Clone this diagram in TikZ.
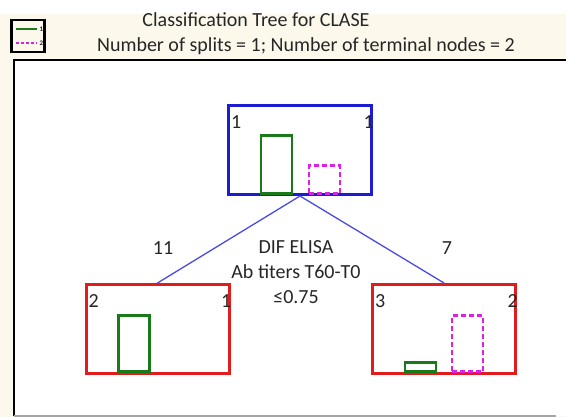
\documentclass[tikz,border=0pt]{standalone}
\usepackage{fontspec}
\setmainfont{Carlito}
\usepackage{tikz}
\usetikzlibrary{positioning}
\definecolor{cream}{HTML}{FCF8EC}
\definecolor{splitblue}{HTML}{1C1CD2}
\definecolor{leafred}{HTML}{E01C1C}
\definecolor{classgreen}{HTML}{1A7A1A}
\definecolor{classmag}{HTML}{E020E0}
\definecolor{edgeblue}{HTML}{4A4AE6}

\begin{document}
\begin{tikzpicture}[x=1pt,y=-1pt,font=\fontsize{20}{25}\selectfont]
\tikzstyle{txt}=[text=black!85,inner sep=0pt]
\tikzstyle{split}=[draw=splitblue,line width=3pt,inner sep=0pt]
\tikzstyle{leaf}=[draw=leafred,line width=3pt,inner sep=0pt]
\tikzstyle{edge}=[draw=edgeblue,line width=1.3pt]
\tikzstyle{bar1}=[draw=classgreen,line width=2.6pt,anchor=south,inner sep=0pt,minimum width=31]
\tikzstyle{bar2}=[bar1,draw=classmag,dash pattern=on 5pt off 3pt]
\useasboundingbox (0,0) rectangle (566,417);
% background and frame
\fill[cream] (0,14) rectangle (566,417);
\fill[white] (14,60) rectangle (566,416);
\draw[line width=2.5pt] (14,416) |- (566,60);
\draw[black!35,line width=1.5pt] (14,416) -- (556,416);
% legend and title
\node[draw,line width=2.5pt,minimum width=33,minimum height=32,inner sep=0pt] (legend) at (28,36) {};
\draw[classgreen,line width=2.5pt] (16,29) -- (37,29);
\draw[classmag,line width=2.5pt,dash pattern=on 3pt off 2pt] (16,43) -- (37,43);
\node[txt,font=\fontsize{7}{7}\selectfont\bfseries] (key1) at (41.5,29.5) {1};
\node[txt,font=\fontsize{7}{7}\selectfont\bfseries] (key2) at (41.5,43.5) {2};
\node[txt] (title) at (256,20) {Classification Tree for CLASE};
\node[txt] (info) at (306,46) {Number of splits = 1; Number of terminal nodes = 2};
% tree
\foreach \pos/\name/\kind in {{(300,150)/root/split},{(157.5,329)/left/leaf},{(444,329)/right/leaf}}
  \node[\kind,minimum width=143,minimum height=89] (\name) at \pos {};
\path[edge] (root.south) -- (left.north);
\path[edge] (root.south) -- (right.north);
\node[txt] (n11) at (163,248) {11};
\node[txt] (n7) at (447,248) {7};
\node[txt,align=center] (rule) at (296,272) {DIF ELISA\\Ab titers T60-T0\\≤0.75};
% class counts
\foreach \name/\a/\b in {root/1/1,left/2/1,right/3/2}{
  \node[txt,anchor=north west] (\name-a) at ([shift={(4,11)}]\name.north west) {\a};
  \node[txt,anchor=north east] (\name-b) at ([shift={(1,11)}]\name.north east) {\b};
}
% class bars
\node[bar1,minimum height=58] (root-g) at (276.5,195) {};
\node[bar2,minimum height=28] (root-m) at (324.5,195) {};
\node[bar1,minimum height=56] (left-g) at (134,373) {};
\node[bar1,minimum height=9] (right-g) at (420.5,373) {};
\node[bar2,minimum height=56] (right-m) at (467.5,373) {};
\end{tikzpicture}
\end{document}
